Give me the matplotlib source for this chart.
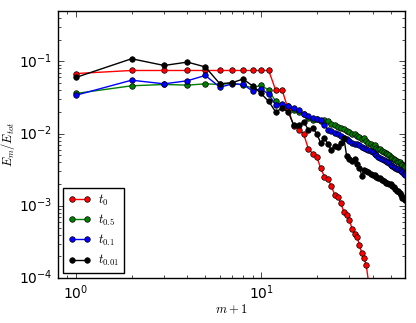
import numpy as np
import matplotlib
matplotlib.use("Agg")
import matplotlib.pyplot as plt

plt.style.use("classic")

# m+1 values
m1 = np.arange(1, 61)
m1_red = np.arange(1, 39)

# t_0
e_t0 = [0.068, 0.075, 0.075, 0.075, 0.075, 0.075, 0.075, 0.075, 0.075, 0.075,
        0.075, 0.040, 0.040, 0.022, 0.0128, 0.0114, 0.0098, 0.0062, 0.0053, 0.0048,
        0.0033, 0.00255, 0.00234, 0.00186, 0.00142, 0.00132, 0.00109, 0.00082, 0.00074, 0.00064,
        0.00048, 0.00041, 0.00037, 0.000286, 0.00022, 0.000188, 0.00015, 0.00009]

# t_0.5
e_t05 = [0.036, 0.046, 0.048, 0.047, 0.049, 0.048, 0.050, 0.047, 0.043, 0.047,
         0.040, 0.028, 0.025, 0.024, 0.021, 0.020, 0.0186, 0.0164, 0.0155, 0.0158,
         0.0150, 0.0153, 0.0148, 0.0135, 0.0130, 0.0125, 0.0120, 0.0115, 0.0108, 0.0104,
         0.0098, 0.0100, 0.0093, 0.0090, 0.0084, 0.0086, 0.0078, 0.0075, 0.0072, 0.0068,
         0.0070, 0.0064, 0.0061, 0.0062, 0.0058, 0.0055, 0.0054, 0.0052, 0.0050, 0.0048,
         0.0046, 0.0045, 0.0043, 0.0042, 0.0040, 0.0040, 0.0038, 0.0037, 0.0036, 0.0035]

# t_0.1
e_t01 = [0.034, 0.055, 0.049, 0.054, 0.064, 0.044, 0.049, 0.048, 0.039, 0.042,
         0.035, 0.025, 0.026, 0.024, 0.0224, 0.021, 0.0185, 0.0175, 0.0164, 0.0160,
         0.0155, 0.0130, 0.0114, 0.0108, 0.0102, 0.0100, 0.0094, 0.0087, 0.0084, 0.0078,
         0.0074, 0.0073, 0.0071, 0.0069, 0.0065, 0.0064, 0.0062, 0.0060, 0.0057, 0.0055,
         0.0053, 0.0050, 0.0048, 0.0046, 0.0045, 0.0043, 0.0042, 0.0040, 0.0039, 0.0037,
         0.0036, 0.0035, 0.0034, 0.0032, 0.0032, 0.0031, 0.0030, 0.0029, 0.0028, 0.0027]

# t_0.01
e_t001 = [0.060, 0.109, 0.088, 0.098, 0.084, 0.049, 0.051, 0.057, 0.046, 0.036,
          0.028, 0.020, 0.0225, 0.020, 0.0133, 0.0130, 0.0147, 0.0113, 0.0120, 0.0100,
          0.0074, 0.0087, 0.0071, 0.0060, 0.0068, 0.0066, 0.0074, 0.0087, 0.0049, 0.0045,
          0.0042, 0.0044, 0.0038, 0.0034, 0.0026, 0.0031, 0.0030, 0.0029, 0.0028, 0.0027,
          0.0027, 0.0025, 0.0024, 0.0024, 0.0023, 0.0022, 0.0021, 0.0021, 0.0020, 0.0020,
          0.0019, 0.0018, 0.0017, 0.0016, 0.0016, 0.0015, 0.0014, 0.0013, 0.0013, 0.0012]

fig = plt.figure(figsize=(4.16, 3.23), dpi=100, facecolor="white")
ax = fig.add_axes([0.139, 0.139, 0.835, 0.827])

kw = dict(marker="o", markersize=4, linewidth=1, markeredgecolor="k", markeredgewidth=0.5)
ax.plot(m1_red, e_t0, color="r", label=r"$t_0$", **kw)
ax.plot(m1, e_t05, color="g", label=r"$t_{0.5}$", **kw)
ax.plot(m1, e_t01, color="b", label=r"$t_{0.1}$", **kw)
ax.plot(m1, e_t001, color="k", label=r"$t_{0.01}$", **kw)

ax.set_xscale("log")
ax.set_yscale("log")
ax.set_xlim(0.8, 60)
ax.set_ylim(1e-4, 0.5)
ax.tick_params(labelsize=10)

ax.set_xlabel(r"$m+1$", fontsize=9, labelpad=0)
ax.set_ylabel(r"$E_m/E_{tot}$", fontsize=9, labelpad=1)

leg = ax.legend(loc="lower left", fontsize=9, numpoints=2, handlelength=1.8,
                borderpad=0.4, labelspacing=0.4, handletextpad=0.6,
                borderaxespad=0.4, fancybox=False)
leg.get_frame().set_linewidth(1)

fig.savefig("out.png", dpi=100, facecolor="white")
